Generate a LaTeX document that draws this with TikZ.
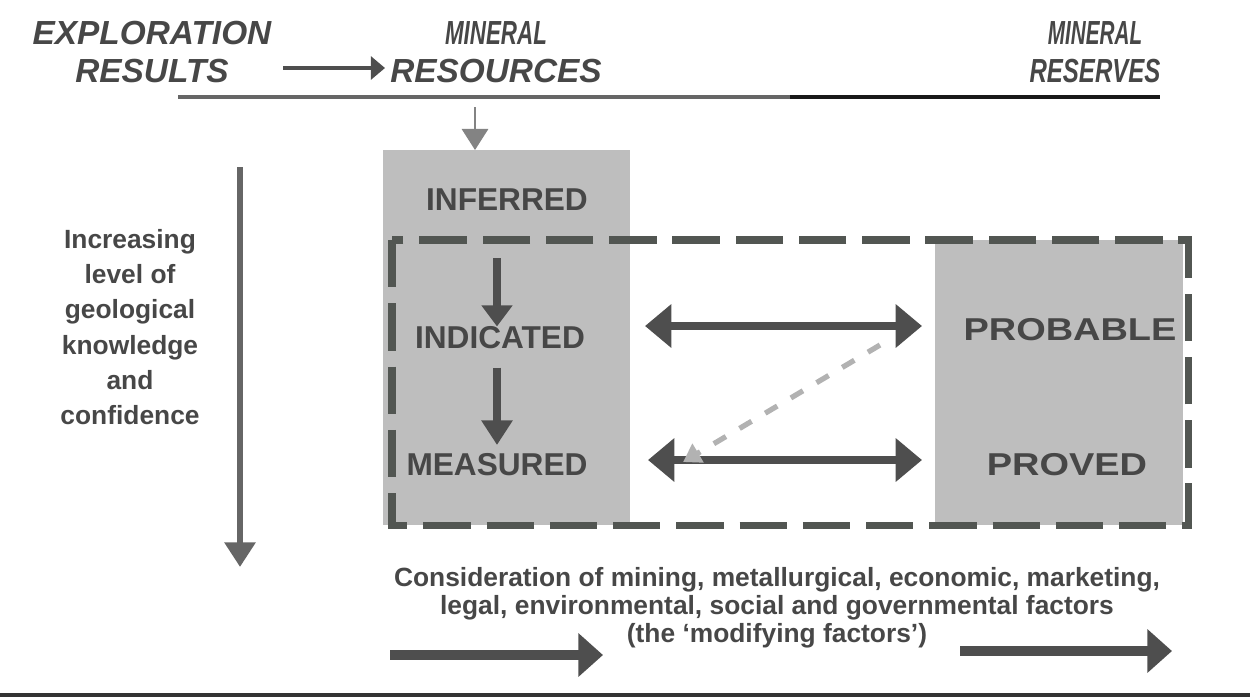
\documentclass[tikz,border=0pt]{standalone}
\usepackage{fontspec}
\usepackage{graphicx}
\setmainfont{Liberation Sans}
\usetikzlibrary{arrows.meta}
\definecolor{txt}{HTML}{474747}
\definecolor{boxg}{HTML}{BEBEBE}
\definecolor{dashc}{HTML}{525652}
\definecolor{arr}{HTML}{4E4E4E}
\begin{document}
\begin{tikzpicture}[x=0.02cm,y=-0.02cm,
  hdr/.style={font=\fontsize{19}{22}\selectfont\bfseries\itshape, text=txt, align=center, inner sep=0pt},
  cat/.style={font=\fontsize{18}{20}\selectfont\bfseries, text=txt, inner sep=0pt},
  side/.style={font=\fontsize{15}{20}\selectfont\bfseries, text=txt, align=center, inner sep=0pt},
  note/.style={font=\fontsize{15}{16}\selectfont\bfseries, text=txt, align=center, inner sep=0pt},
  resbox/.style={fill=boxg, draw=none},
  dashbox/.style={draw=dashc, line width=4pt, dash pattern=on 27pt off 9pt},
  both/.style={draw=arr, line width=4.5pt, {Triangle[length=15pt,width=24pt]}-{Triangle[length=15pt,width=24pt]}},
  big/.style={draw=arr, line width=6pt, -{Triangle[length=14pt,width=24pt]}}
]
\useasboundingbox (0,0) rectangle (1250,698);

% headers
\node[hdr] (expl) at (152,52) {EXPLORATION\\RESULTS};
\node[hdr] (mres) at (496,52) {\scalebox{0.67}[1]{MINERAL}\\RESOURCES};
\node[hdr] (mrsv) at (1095,52) {\scalebox{0.62}[1]{MINERAL}\\\scalebox{0.72}[1]{RESERVES}};
\coordinate (ha) at (283,68);
\coordinate (hb) at (385,68);
\draw[draw=arr, line width=1.8pt, -{Triangle[length=8pt,width=13pt]}] (ha) -- (hb);

% header rule
\coordinate (r1) at (178,97);
\coordinate (r2) at (790,97);
\coordinate (r3) at (1160,97);
\draw[line width=2.3pt, draw=black!60] (r1) -- (r2);
\draw[line width=2.3pt, draw=black!90] (r2) -- (r3);

% boxes
\fill[resbox] (383,150) rectangle (630,525);
\fill[resbox] (935,240) rectangle (1183,525);
\draw[dashbox] (392,240) rectangle (1188,525);

% small entry arrow
\coordinate (ea) at (475,107);
\coordinate (eb) at (475,150);
\draw[draw=arr!70, line width=1.2pt, -{Triangle[length=12pt,width=15pt]}] (ea) -- (eb);

% categories
\node[cat] (inf) at (507,200) {INFERRED};
\node[cat] (ind) at (500,338) {INDICATED};
\node[cat] (mea) at (497,465) {MEASURED};
\node[cat, xscale=1.2, transform shape] (prob) at (1070,330) {PROBABLE};
\node[cat, xscale=1.2, transform shape] (prov) at (1067,465) {PROVED};

\draw[draw=arr, line width=4pt, -{Triangle[length=12pt,width=17pt]}] (497,258) -- (ind.north -| 497,0);
\draw[draw=arr, line width=4pt, -{Triangle[length=14pt,width=17pt]}] (ind.south -| 497,0) ++(0,18) -- (497,445);

% double arrows
\coordinate (d1a) at (645,326);
\coordinate (d1b) at (922,326);
\coordinate (d2a) at (648,460);
\coordinate (d2b) at (922,460);
\draw[both] (d1a) -- (d1b);
\draw[both] (d2a) -- (d2b);

% faint diagonal arrow
\coordinate (fa) at (880,345);
\coordinate (fb) at (683,462);
\draw[draw=gray!60, line width=3pt, dash pattern=on 8pt off 9pt, -{Triangle[length=10pt,width=12pt]}] (fa) -- (fb);

% left knowledge arrow
\coordinate (la) at (240,167);
\coordinate (lb) at (240,567);
\draw[draw=black!60, line width=3.5pt, -{Triangle[length=14pt,width=17pt]}] (la) -- (lb);
\node[side] (know) at (130,327) {Increasing\\level of\\geological\\knowledge\\and\\confidence};

% modifying factors
\node[note] (mod) at (777,608) {Consideration of mining, metallurgical, economic, marketing,\\legal, environmental, social and governmental factors\\(the `modifying factors')};
\coordinate (ba) at (390,655);
\coordinate (bb) at (603,655);
\coordinate (bc) at (960,651);
\coordinate (bd) at (1172,651);
\draw[big] (ba) -- (bb);
\draw[big] (bc) -- (bd);

% bottom rule
\coordinate (z1) at (0,695);
\coordinate (z2) at (1250,695);
\draw[line width=1.8pt, draw=black!80] (z1) -- (z2);
\end{tikzpicture}
\end{document}
